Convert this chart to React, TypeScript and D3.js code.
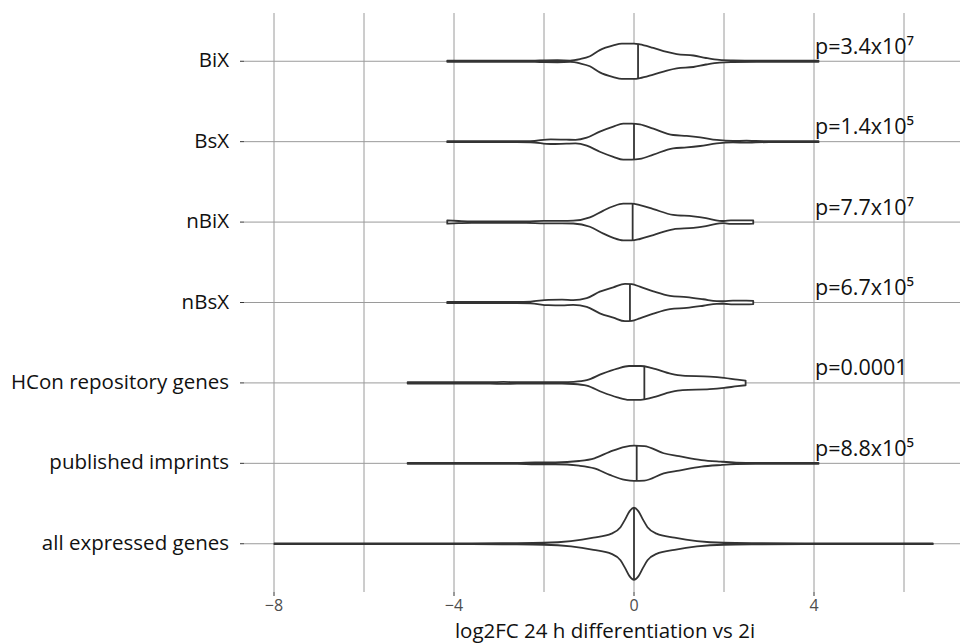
import React, { useEffect, useRef } from "react";
import * as d3 from "d3";

// groups, top to bottom
const categories = [
  "BiX",
  "BsX",
  "nBiX",
  "nBsX",
  "HCon repository genes",
  "published imprints",
  "all expressed genes",
];

// violin outlines: [log2FC, relative density]
const bixDensity = [
  [-4.15, 1.4], [-3, 1.4], [-2.2, 1.6], [-2.0, 2.5], [-1.7, 2.8], [-1.42, 2], [-1.2, 6],
  [-0.98, 14], [-0.76, 31], [-0.46, 44], [-0.27, 49], [0, 49], [0.13, 47], [0.43, 37],
  [0.73, 26], [0.95, 20], [1.32, 16], [1.6, 9], [1.9, 3.6], [2.2, 2.2], [2.73, 1.4], [4.1, 1.4],
];
const bsxDensity = [
  [-4.15, 1.4], [-2.6, 1.4], [-2.3, 1.6], [-1.85, 6.5], [-1.5, 5.5], [-1.3, 5], [-1.05, 11],
  [-0.76, 28], [-0.46, 42], [-0.24, 50], [-0.05, 50], [0.13, 48], [0.43, 36], [0.87, 18.5],
  [1.17, 16], [1.47, 12], [1.84, 4.7], [2.2, 2], [2.5, 2.8], [2.7, 2], [3.0, 1.4], [4.1, 1.4],
];
const nbixDensity = [
  [-4.15, 4.5], [-3.9, 3], [-3.6, 1.8], [-2.4, 1.8], [-2.0, 3.5], [-1.6, 3.5], [-1.35, 4],
  [-0.98, 13], [-0.68, 32], [-0.46, 44], [-0.24, 51], [-0.05, 51], [0.13, 47], [0.43, 36],
  [0.87, 20], [1.32, 16], [1.6, 11], [1.9, 3.6], [2.0, 3], [2.15, 5], [2.5, 5], [2.65, 4.5],
];
const nbsxDensity = [
  [-4.15, 1.8], [-2.6, 1.8], [-2.3, 2.5], [-1.9, 7.5], [-1.6, 8], [-1.35, 6.5], [-1.05, 12],
  [-0.76, 30], [-0.46, 42], [-0.2, 52], [-0.05, 51], [0.13, 44], [0.43, 31], [0.8, 18.5],
  [1.17, 15], [1.54, 9], [1.84, 3.6], [2.0, 3.5], [2.2, 5], [2.5, 5], [2.65, 4.5],
];
const hconDensity = [
  [-5.03, 1.8], [-3.2, 1.8], [-2.9, 2.8], [-2.6, 1.8], [-1.6, 2], [-1.34, 3], [-1.05, 7.5],
  [-0.7, 26], [-0.37, 40], [-0.11, 47], [0.15, 47], [0.4, 41], [0.83, 25], [1.08, 20],
  [1.68, 17.5], [2.0, 14], [2.3, 9], [2.48, 6.5],
];
const imprintDensity = [
  [-5.03, 1.4], [-2.6, 1.4], [-2.2, 2.5], [-1.75, 2.5], [-1.22, 6.5], [-0.88, 14], [-0.54, 32],
  [-0.2, 46], [0, 49], [0.23, 48], [0.66, 28], [1.0, 20], [1.5, 9], [1.92, 4.7], [2.27, 2.2],
  [2.7, 1.4], [4.1, 1.4],
];
const allDensity = [
  [-7.99, 1.2], [-3.6, 1.2], [-2.8, 1.8], [-2.0, 2.8], [-1.4, 7.5], [-0.9, 17], [-0.5, 28],
  [-0.3, 46], [-0.2, 67], [-0.1, 90], [0, 100], [0.1, 90], [0.2, 67], [0.3, 46], [0.5, 28],
  [0.9, 17], [1.4, 7.5], [2.0, 2.8], [2.8, 1.8], [3.8, 1.2], [6.64, 1.2],
];
const densities = [bixDensity, bsxDensity, nbixDensity, nbsxDensity, hconDensity, imprintDensity, allDensity];

const medians = [0.09, 0.0, -0.03, -0.09, 0.23, 0.06, 0.0];

const pLabels = ["p=3.4x10⁷", "p=1.4x10⁵", "p=7.7x10⁷", "p=6.7x10⁵", "p=0.0001", "p=8.8x10⁵"];

const xTicks = [-8, -4, 0, 4];
const xGrid = [-8, -6, -4, -2, 0, 2, 4, 6];
const xTitle = "log2FC 24 h differentiation vs 2i";

function App() {
  const ref = useRef<SVGSVGElement>(null);

  useEffect(() => {
    const left = 244,
      right = 960,
      top = 13,
      bottom = 592;

    const svg = d3.select(ref.current);
    svg.selectAll("*").remove();

    var x = d3.scaleLinear().domain([-8, 4]).range([274, 814]);
    var y = d3.scalePoint().domain(categories).range([top, bottom]).padding(0.6);
    var w = d3.scaleLinear().domain([0, 100]).range([0, 36]);

    const font = "'Open Sans', sans-serif";

    // grid
    svg
      .selectAll("vgrid")
      .data(xGrid)
      .enter()
      .append("line")
      .attr("x1", (d) => x(d))
      .attr("x2", (d) => x(d))
      .attr("y1", top)
      .attr("y2", bottom)
      .attr("stroke", "#9a9a9a")
      .attr("stroke-width", 1);

    svg
      .selectAll("hgrid")
      .data(categories)
      .enter()
      .append("line")
      .attr("x1", left)
      .attr("x2", right)
      .attr("y1", (d) => y(d)!)
      .attr("y2", (d) => y(d)!)
      .attr("stroke", "#9a9a9a")
      .attr("stroke-width", 1);

    // ticks
    svg
      .selectAll("xtick")
      .data(xTicks)
      .enter()
      .append("line")
      .attr("x1", (d) => x(d))
      .attr("x2", (d) => x(d))
      .attr("y1", bottom)
      .attr("y2", bottom + 4)
      .attr("stroke", "#333")
      .attr("stroke-width", 1);

    svg
      .selectAll("ytick")
      .data(categories)
      .enter()
      .append("line")
      .attr("x1", left - 4)
      .attr("x2", left)
      .attr("y1", (d) => y(d)!)
      .attr("y2", (d) => y(d)!)
      .attr("stroke", "#333")
      .attr("stroke-width", 1);

    // violins
    categories.forEach((cat, i) => {
      const cy = y(cat)!;
      const prof = densities[i];
      const area = d3
        .area<number[]>()
        .x((d) => x(d[0]))
        .y0((d) => cy - w(d[1]))
        .y1((d) => cy + w(d[1]))
        .curve(d3.curveMonotoneX);

      svg
        .append("path")
        .attr("d", area(prof)!)
        .attr("fill", "white")
        .attr("stroke", "#333")
        .attr("stroke-width", 1.8)
        .attr("stroke-linejoin", "round");

      // median line
      const dens = d3
        .scaleLinear()
        .domain(prof.map((d) => d[0]))
        .range(prof.map((d) => d[1]));
      const hw = w(dens(medians[i]));
      svg
        .append("line")
        .attr("x1", x(medians[i]))
        .attr("x2", x(medians[i]))
        .attr("y1", cy - hw)
        .attr("y2", cy + hw)
        .attr("stroke", "#333")
        .attr("stroke-width", 1.8);
    });

    // p values
    svg
      .selectAll("plabel")
      .data(pLabels)
      .enter()
      .append("text")
      .attr("x", x(4) + 1)
      .attr("y", (d, i) => y(categories[i])! - 7.5)
      .style("font-family", font)
      .style("font-size", "21.5px")
      .attr("fill", "#111")
      .text((d) => d);

    // y labels
    svg
      .selectAll("ylabel")
      .data(categories)
      .enter()
      .append("text")
      .attr("x", 229)
      .attr("y", (d) => y(d)! + 6)
      .attr("text-anchor", "end")
      .style("font-family", font)
      .style("font-size", "20.5px")
      .attr("fill", "#111")
      .text((d) => d);

    // x tick labels
    svg
      .selectAll("xlabel")
      .data(xTicks)
      .enter()
      .append("text")
      .attr("x", (d) => x(d))
      .attr("y", 611)
      .attr("text-anchor", "middle")
      .style("font-family", font)
      .style("font-size", "16px")
      .attr("fill", "#4d4d4d")
      .text((d) => d3.format("d")(d));

    svg
      .append("text")
      .attr("x", 605)
      .attr("y", 638)
      .attr("text-anchor", "middle")
      .style("font-family", font)
      .style("font-size", "20.5px")
      .attr("fill", "#111")
      .text(xTitle);
  }, []);

  return (
    <svg
      ref={ref}
      width={960}
      height={643}
      style={{ position: "absolute", left: 0, top: 0, background: "white" }}
    />
  );
}

export default App;
